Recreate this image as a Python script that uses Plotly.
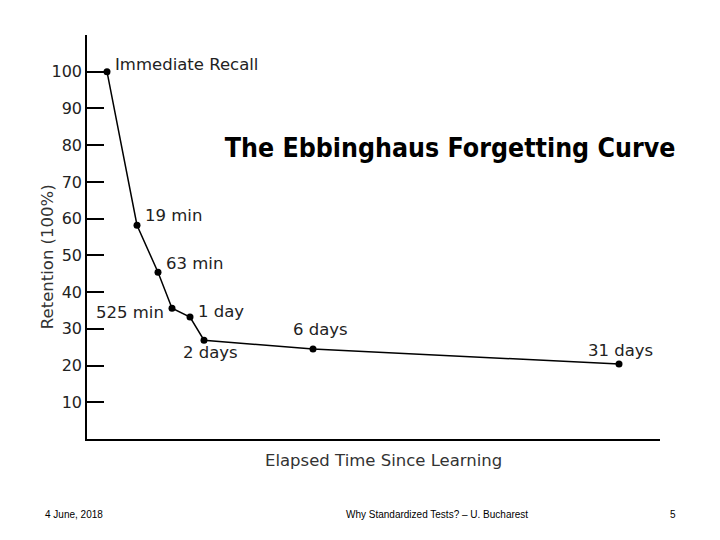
import plotly.graph_objects as go

# Data
labels = ["Immediate Recall", "19 min", "63 min", "525 min", "1 day", "2 days", "6 days", "31 days"]
# horizontal position of each point along the (unscaled) elapsed-time axis
x_position = [20, 50, 71, 85, 103, 117, 226, 532]
retention = [100, 58.2, 45.4, 35.6, 33.2, 26.9, 24.5, 20.4]
y_ticks = [10, 20, 30, 40, 50, 60, 70, 80, 90, 100]

# label placement styles (anchor, shift)
label_styles = [
    dict(xanchor="left", yanchor="middle", xshift=6, yshift=7),
    dict(xanchor="left", yanchor="middle", xshift=6, yshift=10),
    dict(xanchor="left", yanchor="middle", xshift=6, yshift=9),
    dict(xanchor="right", yanchor="middle", xshift=-6, yshift=-4),
    dict(xanchor="left", yanchor="middle", xshift=6, yshift=6),
    dict(xanchor="center", yanchor="middle", xshift=6, yshift=-12),
    dict(xanchor="center", yanchor="middle", xshift=7, yshift=20),
    dict(xanchor="center", yanchor="middle", xshift=1, yshift=14),
]

fig = go.Figure()
fig.add_trace(go.Scatter(
    x=x_position, y=retention, mode="lines+markers",
    line=dict(color="black", width=1.5),
    marker=dict(color="black", size=7),
    showlegend=False, hoverinfo="skip",
))

label_font = dict(family="DejaVu Sans, Verdana, sans-serif", size=16.5, color="#222222")
for lab, xv, yv, st in zip(labels, x_position, retention, label_styles):
    fig.add_annotation(x=xv, y=yv, xref="x", yref="y", text=lab, showarrow=False,
                       font=label_font, **st)

# axis titles
title_font = dict(family="DejaVu Sans, Verdana, sans-serif", size=16.5, color="#333333")
fig.add_annotation(x=-0.0698, y=0.45, xref="paper", yref="paper", text="Retention (100%)",
                   textangle=-90, showarrow=False, xanchor="center", yanchor="middle",
                   font=title_font)
fig.add_annotation(x=0.518, y=-0.052, xref="paper", yref="paper", text="Elapsed Time Since Learning",
                   showarrow=False, xanchor="center", yanchor="middle", font=title_font)

footer_font = dict(family="Liberation Sans Narrow, Liberation Sans, Arial, sans-serif", size=10, color="black")
fig.add_annotation(x=-0.0768, y=-0.188, xref="paper", yref="paper", text="4 June, 2018",
                   showarrow=False, xanchor="left", yanchor="middle", font=footer_font)
fig.add_annotation(x=0.611, y=-0.188, xref="paper", yref="paper",
                   text="Why Standardized Tests? – U. Bucharest",
                   showarrow=False, xanchor="center", yanchor="middle", font=footer_font)
fig.add_annotation(x=1.023, y=-0.188, xref="paper", yref="paper", text="5",
                   showarrow=False, xanchor="center", yanchor="middle", font=footer_font)

fig.update_layout(
    width=720, height=540,
    margin=dict(l=79, r=68, t=27, b=109),
    paper_bgcolor="white", plot_bgcolor="white",
    title=dict(text="<b>The Ebbinghaus Forgetting Curve</b>", x=0.614, y=0.741,
               xanchor="center", yanchor="middle",
               font=dict(family="DejaVu Sans Condensed, Liberation Sans Narrow, sans-serif",
                         size=26.5, color="black")),
    xaxis=dict(range=[0, 573], showgrid=False, zeroline=False, showline=True, automargin=False,
               linecolor="black", linewidth=1.5, showticklabels=False, ticks=""),
    yaxis=dict(range=[0, 110], showgrid=False, zeroline=False, showline=True, automargin=False,
               linecolor="black", linewidth=1.5, tickvals=y_ticks, ticks="inside",
               ticklen=17, tickwidth=2, tickcolor="black",
               tickfont=dict(family="DejaVu Sans, Verdana, sans-serif", size=16, color="#222222")),
)

fig.write_html("out.html")
